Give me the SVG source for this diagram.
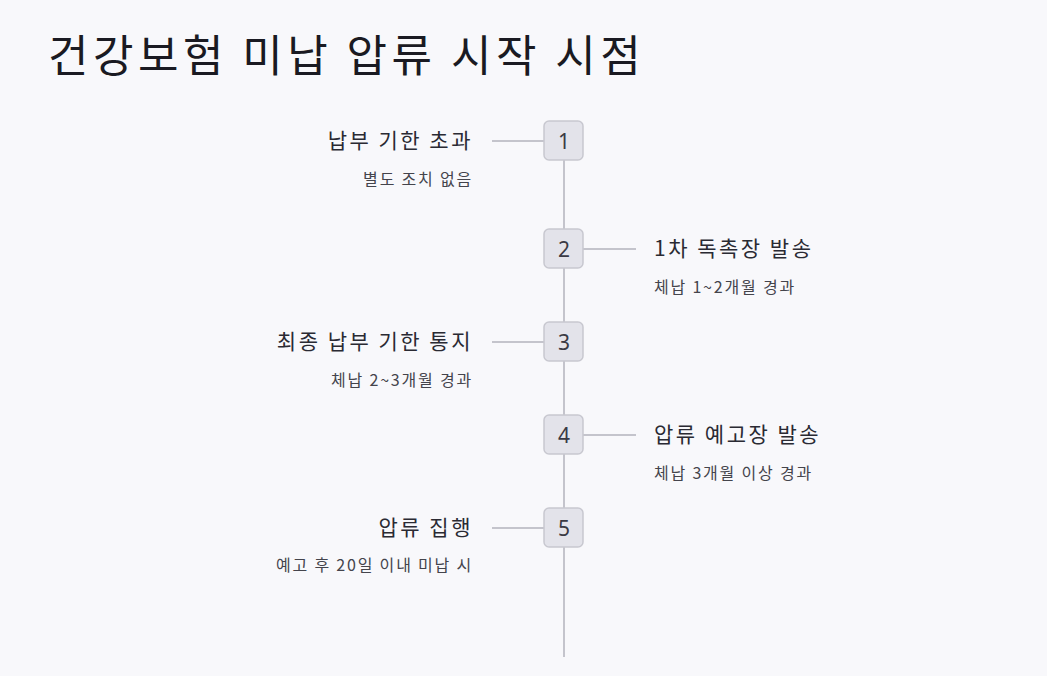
<svg xmlns="http://www.w3.org/2000/svg" width="1047" height="676" viewBox="0 0 1047 676">
<style>
text{font-family:"Noto Sans CJK KR","Noto Sans",sans-serif}
.t{font-size:21px;fill:#2a2a33;letter-spacing:2.5px}
.s{font-size:16px;fill:#44444c;letter-spacing:1.8px}
.n{font-size:21px;fill:#3a3a44;text-anchor:middle;font-family:"Noto Sans",sans-serif}
.b{fill:#e3e3ea;stroke:#c8c8d0;stroke-width:1.5}
.c{stroke:#c4c4cc;stroke-width:2;fill:none}
</style>
<rect width="1047" height="676" fill="#f8f8fb"/>
<text x="48" y="72" style="font-size:44px;fill:#1a1a22;letter-spacing:4.5px">건강보험 미납 압류 시작 시점</text>
<g id="connectors">
<line class="c" x1="564" y1="160" x2="564" y2="657"/>
<line class="c" x1="492" y1="141" x2="544" y2="141"/>
<line class="c" x1="583" y1="249" x2="636" y2="249"/>
<line class="c" x1="492" y1="342" x2="544" y2="342"/>
<line class="c" x1="583" y1="435" x2="636" y2="435"/>
<line class="c" x1="492" y1="528" x2="544" y2="528"/>
</g>
<g id="n1"><rect class="b" x="544" y="121" width="39" height="39" rx="5"/><text class="n" x="564" y="149">1</text>
<text class="t" x="473" y="148" text-anchor="end">납부 기한 초과</text><text class="s" x="473" y="185" text-anchor="end">별도 조치 없음</text></g>
<g id="n2"><rect class="b" x="544" y="229" width="39" height="39" rx="5"/><text class="n" x="564" y="257">2</text>
<text class="t" x="654" y="256">1차 독촉장 발송</text><text class="s" x="654" y="293">체납 1~2개월 경과</text></g>
<g id="n3"><rect class="b" x="544" y="322" width="39" height="39" rx="5"/><text class="n" x="564" y="350">3</text>
<text class="t" x="473" y="349" text-anchor="end">최종 납부 기한 통지</text><text class="s" x="473" y="386" text-anchor="end">체납 2~3개월 경과</text></g>
<g id="n4"><rect class="b" x="544" y="415" width="39" height="39" rx="5"/><text class="n" x="564" y="443">4</text>
<text class="t" x="654" y="442">압류 예고장 발송</text><text class="s" x="654" y="479">체납 3개월 이상 경과</text></g>
<g id="n5"><rect class="b" x="544" y="508" width="39" height="39" rx="5"/><text class="n" x="564" y="536">5</text>
<text class="t" x="473" y="535" text-anchor="end">압류 집행</text><text class="s" x="473" y="571" text-anchor="end">예고 후 20일 이내 미납 시</text></g>
</svg>
